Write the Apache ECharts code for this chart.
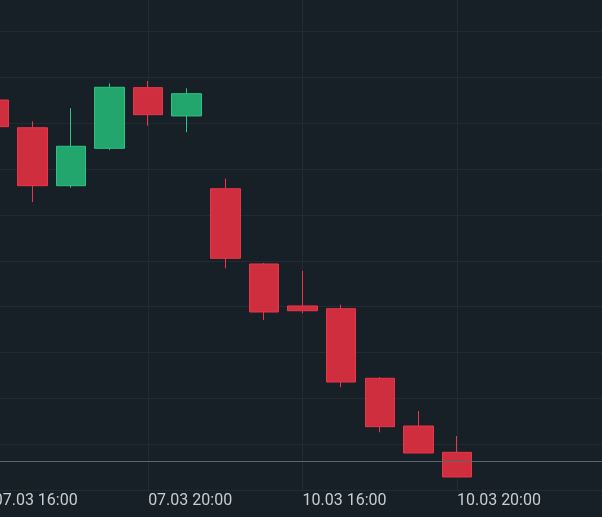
<!DOCTYPE html>
<html>
<head>
<meta charset="utf-8">
<script src="https://cdn.jsdelivr.net/npm/echarts@6/dist/echarts.min.js"></script>
<style>
html,body{margin:0;padding:0;background:#172026;}
#c{width:602px;height:517px;}
</style>
</head>
<body>
<div id="c"></div>
<script>
// Categories (hourly candles)
const categories = [
  "07.03 16:00","07.03 17:00","07.03 18:00","07.03 19:00","07.03 20:00","07.03 21:00",
  "10.03 14:00","10.03 15:00","10.03 16:00","10.03 17:00","10.03 18:00","10.03 19:00","10.03 20:00",
  "10.03 21:00","10.03 22:00","10.03 23:00","11.03 00:00"
];
// OHLC values
const opens  = [242.55, 239.53, 233.20, 237.28, 243.90, 240.81, 232.87, 224.66, 220.08, 219.78, 212.19, 206.98, 204.11];
const closes = [239.64, 233.20, 237.50, 243.94, 240.95, 243.24, 225.28, 219.42, 219.56, 211.78, 206.91, 204.04, 201.42];
const lows   = [239.28, 231.42, 232.98, 237.10, 239.72, 239.03, 224.19, 218.55, 219.28, 211.21, 206.30, 204.04, 201.42];
const highs  = [242.99, 240.23, 241.65, 244.37, 244.63, 243.83, 233.97, 224.77, 223.90, 220.22, 212.33, 208.62, 205.89];
const priceLine = 203.13;
// Axis scale
const yMin = 200, yMax = 255, yStep = 5;

const candleData = opens.map((o, i) => [o, closes[i], lows[i], highs[i]]);

const chart = echarts.init(document.getElementById('c'), null, {renderer: 'canvas'});
chart.setOption({
  backgroundColor: '#172026',
  animation: false,
  grid: {left: -6.3, right: -9.4, top: -14.1, bottom: 27, containLabel: false, outerBoundsMode: 'none'},
  xAxis: {
    type: 'category',
    data: categories,
    boundaryGap: false,
    axisLine: {show: false},
    axisTick: {show: false},
    axisLabel: {
      interval: 3,
      align: 'left',
      margin: 3,
      color: '#c8ccd0',
      fontFamily: 'Roboto',
      fontSize: 16
    },
    splitLine: {show: true, interval: 3, lineStyle: {color: '#212b32', width: 1}}
  },
  yAxis: {
    type: 'value',
    min: yMin, max: yMax, interval: yStep,
    position: 'right',
    axisLine: {show: false},
    axisTick: {show: false},
    axisLabel: {show: false},
    splitLine: {show: true, lineStyle: {color: '#212b32', width: 1}}
  },
  series: [{
    type: 'candlestick',
    data: candleData,
    barWidth: 30,
    clip: false,
    itemStyle: {
      color: '#23a66e',
      color0: '#cf2e3f',
      borderColor: '#2cc282',
      borderColor0: '#ec3549',
      borderWidth: 1
    },
    markLine: {
      symbol: ['none', 'none'],
      silent: true,
      label: {show: false},
      lineStyle: {color: '#5b676f', width: 1, type: 'solid'},
      data: [{yAxis: priceLine}]
    }
  }]
});
</script>
</body>
</html>
